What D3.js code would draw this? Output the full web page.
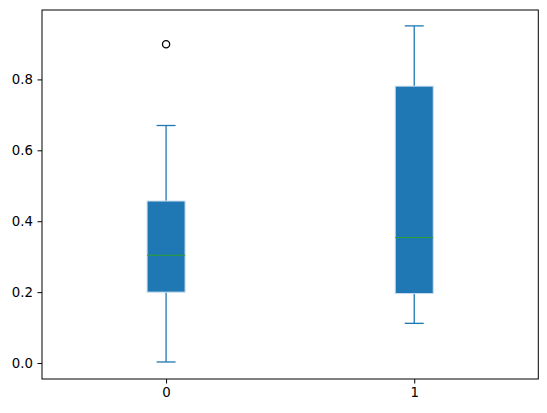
<!DOCTYPE html>
<html><head><meta charset="utf-8">
<script src="https://cdn.jsdelivr.net/npm/d3@7"></script>
<style>body{margin:0;background:#fff}svg{display:block}</style>
</head><body>
<script>
const categories = ["0", "1"];
const q1 = [0.200, 0.196];
const median = [0.304, 0.354];
const q3 = [0.457, 0.781];
const whiskerLow = [0.003, 0.112];
const whiskerHigh = [0.670, 0.951];
const outliers = [[0.899], []];
const yTicks = [0.0, 0.2, 0.4, 0.6, 0.8];

const W = 547, H = 413;
const m = {left: 42, top: 10, right: 8.7, bottom: 34};
const svg = d3.select("body").append("svg").attr("width", W).attr("height", H);
const x = d3.scaleLinear().domain([0.5, 2.5]).range([m.left, W - m.right]);
const y = d3.scaleLinear().domain([-0.045, 0.9958]).range([H - m.bottom, m.top]);
const font = "'DejaVu Sans', sans-serif";
const blue = "#1f77b4";
const bw = 0.153, cw = bw / 2;

const g = svg.append("g");
categories.forEach((c, i) => {
  const p = i + 1;
  g.append("line").attr("x1", x(p)).attr("x2", x(p)).attr("y1", y(q3[i])).attr("y2", y(whiskerHigh[i])).attr("stroke", blue).attr("stroke-width", 1.3);
  g.append("line").attr("x1", x(p)).attr("x2", x(p)).attr("y1", y(q1[i])).attr("y2", y(whiskerLow[i])).attr("stroke", blue).attr("stroke-width", 1.3);
  [whiskerHigh[i], whiskerLow[i]].forEach(v => {
    g.append("line").attr("x1", x(p - cw / 2)).attr("x2", x(p + cw / 2)).attr("y1", y(v)).attr("y2", y(v)).attr("stroke", blue).attr("stroke-width", 1.3);
  });
  g.append("rect").attr("x", x(p - bw / 2)).attr("width", x(p + bw / 2) - x(p - bw / 2))
    .attr("y", y(q3[i])).attr("height", y(q1[i]) - y(q3[i]))
    .attr("fill", blue).attr("stroke", "#c8ddee").attr("stroke-width", 1);
  g.append("line").attr("x1", x(p - bw / 2)).attr("x2", x(p + bw / 2)).attr("y1", y(median[i])).attr("y2", y(median[i])).attr("stroke", "#2ca02c").attr("stroke-width", 1);
  outliers[i].forEach(v => {
    g.append("circle").attr("cx", x(p)).attr("cy", y(v)).attr("r", 3.6).attr("fill", "none").attr("stroke", "#000").attr("stroke-width", 1.3);
  });
});

svg.append("rect").attr("x", m.left).attr("y", m.top).attr("width", W - m.right - m.left).attr("height", H - m.bottom - m.top)
  .attr("fill", "none").attr("stroke", "#000").attr("stroke-width", 1);

const yAxis = d3.axisLeft(y).tickValues(yTicks).tickFormat(d3.format(".1f")).tickSize(4.5).tickPadding(4.5);
const ya = svg.append("g").attr("transform", `translate(${m.left},0)`).call(yAxis);
ya.attr("font-size", null).attr("font-family", null);
ya.select(".domain").remove();
ya.selectAll("text").style("font-family", font).style("font-size", "13.3px").attr("fill", "#000");
ya.selectAll("line").attr("stroke", "#000");

const xAxis = d3.axisBottom(x).tickValues([1, 2]).tickFormat((d) => categories[d - 1]).tickSize(4.5).tickPadding(4);
const xa = svg.append("g").attr("transform", `translate(0,${H - m.bottom})`).call(xAxis);
xa.attr("font-size", null).attr("font-family", null);
xa.select(".domain").remove();
xa.selectAll("text").style("font-family", font).style("font-size", "13.3px").attr("fill", "#000");
xa.selectAll("line").attr("stroke", "#000");
</script>
</body></html>
